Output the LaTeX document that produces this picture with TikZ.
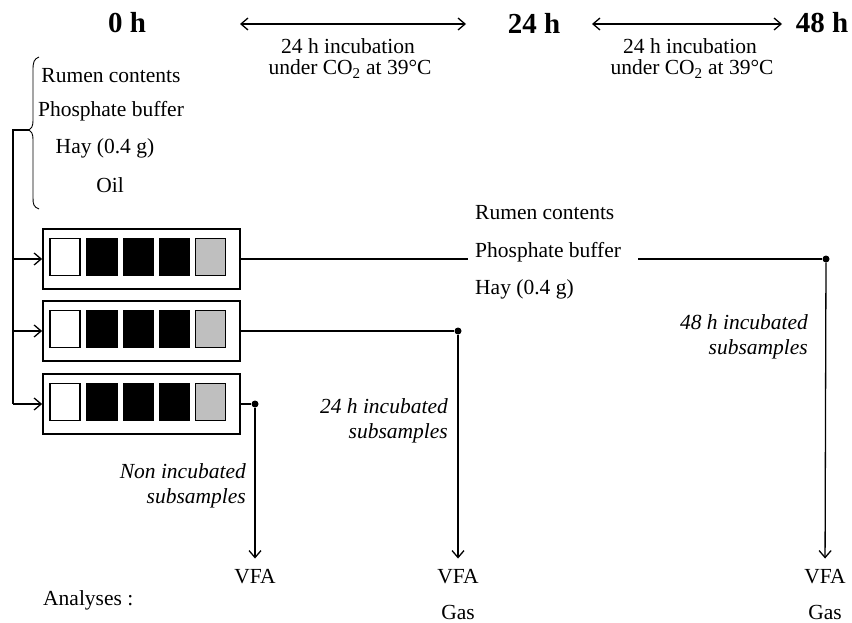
\documentclass[tikz,border=0pt]{standalone}
\usepackage{fontspec}
\setmainfont{Liberation Serif}
\usetikzlibrary{arrows.meta}
\tikzset{
  lbl/.style={font=\fontsize{21.5}{23}\selectfont, inner sep=0pt},
  ital/.style={font=\fontsize{21.5}{25}\selectfont\itshape, align=right, inner sep=0pt},
  hour/.style={font=\fontsize{29}{30}\selectfont\bfseries, inner sep=0pt},
  tube/.style={draw, line width=1.8pt, minimum width=197pt, minimum height=60pt, inner sep=0pt},
  well/.style={draw, line width=1.8pt, minimum width=30pt, minimum height=37pt, inner sep=0pt},
  conn/.style={line width=1.3pt},
  arr/.style={conn, -{Straight Barb[length=7pt,width=12pt]}},
  darr/.style={conn, {Straight Barb[length=7pt,width=12pt]}-{Straight Barb[length=7pt,width=12pt]}},
  dot/.style={circle, fill, inner sep=0pt, minimum size=7pt},
}
\begin{document}
\begin{tikzpicture}[x=1pt,y=-1pt]
\useasboundingbox (0,0) rectangle (852,623);
% time labels
\node[hour] (h0) at (127,23) {0 h};
\node[hour] (h24) at (534,23) {24 h};
\node[hour] (h48) at (822,23) {48 h};
\coordinate (a1l) at (240,24); \coordinate (a1r) at (466,24);
\coordinate (a2l) at (592,24); \coordinate (a2r) at (782,24);
\draw[darr] (a1l) -- (a1r);
\draw[darr] (a2l) -- (a2r);
\node[lbl] (inc1a) at (348,46) {24 h incubation};
\node[lbl] (inc1b) at (350,69) {under CO\textsubscript{2} at 39°C};
\node[lbl] (inc2a) at (690,46) {24 h incubation};
\node[lbl] (inc2b) at (692,69) {under CO\textsubscript{2} at 39°C};
% left ingredients
\node[lbl] (l1) at (111,76) {Rumen contents};
\node[lbl] (l2) at (111,111) {Phosphate buffer};
\node[lbl] (l3) at (105,148) {Hay (0.4 g)};
\node[lbl] (l4) at (110,185) {Oil};
% brace
\draw[line width=0.9pt] (39,57) .. controls (34,59) and (33,62) .. (33,70) -- (33,120)
  .. controls (33,127) and (31,129) .. (29,130)
  .. controls (31,131) and (33,133) .. (33,140) -- (33,198)
  .. controls (33,205) and (34,207) .. (39,209);
\coordinate (bt) at (29,130);
\coordinate (lv) at (13,130);
% tubes
\foreach \i/\y in {1/259,2/331,3/404}{
  \node[tube] (t\i) at (141.5,\y) {};
  \node[well] (t\i w1) at (65,\y-2) {};
  \node[well, fill=black] (t\i w2) at (102,\y-2) {};
  \node[well, fill=black] (t\i w3) at (138.5,\y-2) {};
  \node[well, fill=black] (t\i w4) at (174.5,\y-2) {};
  \node[well, fill=black!25] (t\i w5) at (210.5,\y-2) {};
}
\draw[conn] (bt) -- (lv) -- (lv |- t3.west);
\draw[arr] (lv |- t1.west) -- (t1.west);
\draw[arr] (lv |- t2.west) -- (t2.west);
\draw[arr] (lv |- t3.west) -- (t3.west);
% right ingredients
\node[lbl, anchor=west] (r1) at (475,213) {Rumen contents};
\node[lbl, anchor=west] (r2) at (475,252) {Phosphate buffer};
\node[lbl, anchor=west] (r3) at (475,289) {Hay (0.4 g)};
% dots
\node[dot] (d1) at (826,259) {};
\node[dot] (d2) at (458,331) {};
\node[dot] (d3) at (255,404) {};
\draw[conn] (t1.east) -- ([xshift=-7pt]r2.west |- t1.east);
\draw[conn] ([xshift=17pt]r2.east |- t1.east) -- (d1);
\draw[conn] (t2.east) -- (d2);
\draw[conn] (t3.east) -- (d3);
% analyses
\node[lbl] (v3) at (255,577) {VFA};
\node[lbl] (v2) at (458,577) {VFA};
\node[lbl] (v1) at (825,577) {VFA};
\node[lbl] (g2) at (458,612) {Gas};
\node[lbl] (g1) at (825,612) {Gas};
\node[lbl, anchor=west] (an) at (43,600) {Analyses :};
\draw[arr, shorten >=11pt] (d1) -- (v1);
\draw[arr, shorten >=11pt] (d2) -- (v2);
\draw[arr, shorten >=11pt] (d3) -- (v3);
% italic labels
\node[ital, anchor=east] (s1) at (808,337) {48 h incubated\\subsamples};
\node[ital, anchor=east] (s2) at (448,421) {24 h incubated\\subsamples};
\node[ital, anchor=east] (s3) at (246,486) {Non incubated\\subsamples};
\end{tikzpicture}
\end{document}
